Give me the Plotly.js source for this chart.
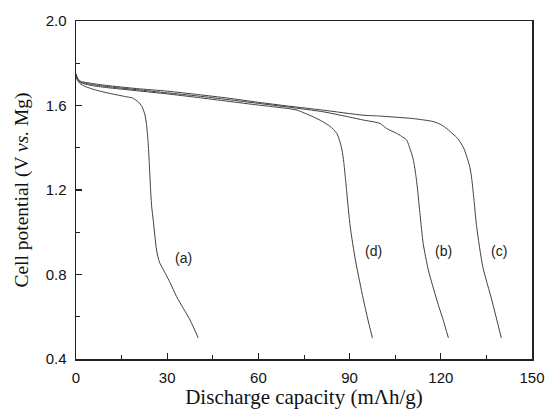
<!DOCTYPE html>
<html>
<head>
<meta charset="utf-8">
<script src="https://cdn.plot.ly/plotly-3.0.1.min.js"></script>
<style>html,body{margin:0;padding:0;background:#fff;}#chart{width:547px;height:411px;}</style>
</head>
<body>
<div id="chart"></div>
<script>
// Curve (a)
const aX = [0, 0.5, 1.3, 3, 6.8, 11.2, 16.7, 18.5, 20.5, 21.7, 22.6, 23.2, 23.7, 24.1, 24.5, 24.9, 25.4, 26.5, 27.4, 28.8, 31, 33.1, 35.3, 37.5, 40.2];
const aY = [1.75, 1.72, 1.704, 1.69, 1.672, 1.657, 1.641, 1.636, 1.617, 1.595, 1.56, 1.51, 1.43, 1.33, 1.21, 1.12, 1.058, 0.916, 0.86, 0.821, 0.76, 0.695, 0.64, 0.585, 0.5];
// Curve (b)
const bX = [0, 0.5, 1.5, 5, 10, 20, 30, 40, 50, 60, 70, 81.4, 90, 94.6, 100, 102.2, 105.5, 107, 108.8, 109.5, 110.4, 111, 111.6, 112.3, 113.2, 114.2, 115.9, 118.7, 120.8, 122.5];
const bY = [1.745, 1.725, 1.712, 1.70, 1.69, 1.675, 1.66, 1.645, 1.628, 1.61, 1.592, 1.57, 1.545, 1.531, 1.515, 1.491, 1.468, 1.455, 1.436, 1.41, 1.373, 1.34, 1.29, 1.21, 1.08, 0.947, 0.821, 0.679, 0.584, 0.5];
// Curve (c)
const cX = [0, 0.5, 1.5, 5, 10, 20, 30, 40, 50, 60, 70, 81.3, 94.5, 100, 106.6, 111, 117.5, 120, 122, 124, 125.5, 127.5, 128.5, 129.6, 130.2, 131, 131.8, 133.8, 136.8, 139.9];
const cY = [1.75, 1.73, 1.715, 1.705, 1.695, 1.68, 1.668, 1.652, 1.635, 1.615, 1.597, 1.578, 1.554, 1.55, 1.543, 1.538, 1.524, 1.51, 1.49, 1.465, 1.445, 1.40, 1.36, 1.306, 1.25, 1.14, 1.026, 0.837, 0.678, 0.5];
// Curve (d)
const dX = [0, 0.5, 1.5, 5, 10, 20, 30, 40, 50, 60, 65, 70, 72.7, 78.1, 81, 83.6, 85.8, 86.8, 87.5, 88.1, 88.6, 89.1, 90.2, 91.9, 94.1, 95.8, 97.5];
const dY = [1.74, 1.72, 1.708, 1.695, 1.685, 1.67, 1.655, 1.638, 1.62, 1.602, 1.594, 1.585, 1.578, 1.546, 1.525, 1.501, 1.468, 1.43, 1.389, 1.33, 1.26, 1.184, 1.026, 0.869, 0.711, 0.6, 0.5];

const curveLabels = ['(a)', '(b)', '(c)', '(d)'];
const xTicks = [0, 30, 60, 90, 120, 150];
const yTicks = [0.4, 0.8, 1.2, 1.6, 2.0];

const lineStyle = {color: '#404040', width: 1, shape: 'spline', smoothing: 0.6};
const series = [[aX, aY], [bX, bY], [cX, cY], [dX, dY]];
const traces = series.map((s, i) => ({
  x: s[0], y: s[1], type: 'scatter', mode: 'lines', line: lineStyle,
  name: curveLabels[i], showlegend: false, hoverinfo: 'skip'
}));

const labelPos = [[35.2, 0.88], [120.9, 0.91], [139, 0.91], [98.0, 0.91]];
const annFont = {family: 'Liberation Sans, Arial, sans-serif', size: 14, color: '#222'};
const annotations = curveLabels.map((t, i) => ({
  x: labelPos[i][0], y: labelPos[i][1], xref: 'x', yref: 'y', text: t,
  showarrow: false, font: annFont
}));

const tickFont = {family: 'Liberation Sans, Arial, sans-serif', size: 15, color: '#111'};
const xTitleFont = {family: 'Liberation Serif, Times New Roman, serif', size: 21, color: '#111'};
const yTitleFont = {family: 'Liberation Serif, Times New Roman, serif', size: 19.5, color: '#111'};

const layout = {
  width: 547, height: 411,
  margin: {l: 76, r: 15, t: 21, b: 52},
  paper_bgcolor: '#fff', plot_bgcolor: '#fff',
  showlegend: false,
  annotations: annotations,
  xaxis: {
    range: [0, 150], tickvals: xTicks, ticktext: xTicks.map(String),
    ticks: 'inside', ticklen: 6, tickwidth: 1.2, tickcolor: '#222',
    minor: {dtick: 15, ticks: 'inside', ticklen: 4, tickwidth: 1, tickcolor: '#222', showgrid: false},
    showline: true, linecolor: '#222', linewidth: 1.5, mirror: true,
    showgrid: false, zeroline: false, tickfont: tickFont, ticklabelstandoff: 4,
    title: {text: 'Discharge capacity (mΛh/g)', font: xTitleFont, standoff: 4}
  },
  yaxis: {
    range: [0.4, 2.0], tickvals: yTicks, ticktext: yTicks.map(v => v.toFixed(1)),
    ticks: 'inside', ticklen: 6, tickwidth: 1.2, tickcolor: '#222',
    minor: {dtick: 0.2, ticks: 'inside', ticklen: 4, tickwidth: 1, tickcolor: '#222', showgrid: false},
    showline: true, linecolor: '#222', linewidth: 1.5, mirror: true,
    showgrid: false, zeroline: false, tickfont: tickFont, ticklabelstandoff: 5,
    title: {text: 'Cell potential (V <i>vs.</i> Mg)', font: yTitleFont, standoff: 12}
  }
};

Plotly.newPlot('chart', traces, layout, {staticPlot: true, displayModeBar: false});
</script>
</body>
</html>
